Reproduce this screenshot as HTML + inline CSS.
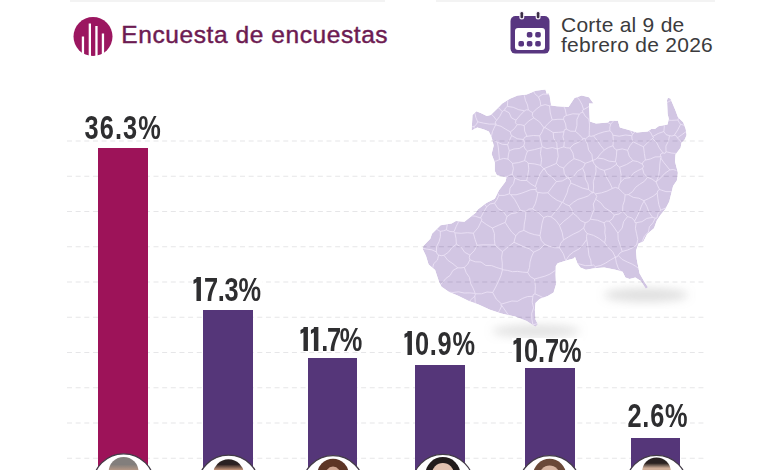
<!DOCTYPE html>
<html><head><meta charset="utf-8">
<style>
html,body{margin:0;padding:0;}
body{width:780px;height:470px;overflow:hidden;background:#fff;position:relative;font-family:"Liberation Sans",sans-serif;}
.abs{position:absolute;}
.title{left:121.3px;top:20.8px;font-size:24.5px;color:#6d1b52;white-space:nowrap;letter-spacing:0.58px;-webkit-text-stroke:0.45px #6d1b52;}
.date{left:561px;top:14.9px;font-size:21px;line-height:20.3px;color:#3b3b3d;white-space:nowrap;letter-spacing:0.25px;}
.bar{position:absolute;bottom:0;}
.mag{background:#9d1359;}
.pur{background:#553679;}
.lbl{position:absolute;font-weight:bold;font-size:34px;color:#2e2e30;white-space:nowrap;transform-origin:0 0;line-height:25.3px;background:#fff;padding:0 2px;}
.one{display:inline-block;position:relative;width:14px;height:23.6px;}
.one:before{content:"";position:absolute;left:4.2px;top:0;width:5.6px;height:23.6px;background:#2e2e30;}
.one:after{content:"";position:absolute;left:0;top:0.6px;width:5.2px;height:4.4px;background:#2e2e30;transform:skewY(-20deg);transform-origin:100% 0;}
</style></head>
<body>
<!-- faint top text remnants -->
<div class="abs" style="left:70px;top:0;width:315px;height:2px;background:#f3f3f3"></div>
<div class="abs" style="left:436px;top:0;width:279px;height:2px;background:#f3f3f3"></div>
<!-- grid -->
<svg class="abs" style="left:0;top:0" width="780" height="470">
  <g stroke="#e6e6e8" stroke-width="1.1" stroke-dasharray="5 3.65" stroke-dashoffset="-2">
    <line x1="65" y1="141" x2="706" y2="141"/>
    <line x1="65" y1="176.25" x2="706" y2="176.25"/>
    <line x1="65" y1="211.5" x2="706" y2="211.5"/>
    <line x1="65" y1="246.75" x2="706" y2="246.75"/>
    <line x1="65" y1="282" x2="706" y2="282"/>
    <line x1="65" y1="317.25" x2="706" y2="317.25"/>
    <line x1="65" y1="352.5" x2="706" y2="352.5"/>
    <line x1="65" y1="387.75" x2="706" y2="387.75"/>
    <line x1="65" y1="423" x2="706" y2="423"/>
    <line x1="65" y1="458.25" x2="706" y2="458.25"/>
  </g>
</svg>

<!-- header logo -->
<svg class="abs" style="left:73px;top:17px" width="40" height="40" viewBox="0 0 40 40">
  <circle cx="20" cy="19.6" r="19.5" fill="#9b1660"/>
  <g fill="#fff">
    <rect x="8.8" y="19.5" width="2.3" height="22"/>
    <rect x="15.7" y="6.5" width="2.3" height="35"/>
    <rect x="22.3" y="9" width="2.3" height="32"/>
    <rect x="28.8" y="16.5" width="2.3" height="25"/>
  </g>
</svg>
<div class="abs title">Encuesta de encuestas</div>

<!-- calendar icon -->
<svg class="abs" style="left:508px;top:10px" width="45" height="46" viewBox="0 0 45 46">
  <rect x="2.5" y="6" width="39" height="37.6" rx="5" fill="#583680"/>
  <rect x="7" y="18" width="30" height="22" rx="3" fill="#fff"/>
  <g fill="#583680">
    <rect x="18.8" y="22" width="5.6" height="5.6" rx="1.8"/>
    <rect x="27.2" y="22" width="5.6" height="5.6" rx="1.8"/>
    <rect x="10.4" y="31" width="5.6" height="5.6" rx="1.8"/>
    <rect x="18.8" y="31" width="5.6" height="5.6" rx="1.8"/>
    <rect x="27.2" y="31" width="5.6" height="5.6" rx="1.8"/>
  </g>
  <g stroke="#f4eef8" stroke-width="5" stroke-linecap="round">
    <line x1="13.8" y1="3.3" x2="13.8" y2="7"/>
    <line x1="30.1" y1="3.3" x2="30.1" y2="7"/>
  </g>
  <g stroke="#3a2d45" stroke-width="2.6" stroke-linecap="round">
    <line x1="13.8" y1="3.3" x2="13.8" y2="7"/>
    <line x1="30.1" y1="3.3" x2="30.1" y2="7"/>
  </g>
</svg>
<div class="abs date">Corte al 9 de<br>febrero de 2026</div>

<!-- map shadows -->
<svg class="abs" style="left:0;top:0" width="780" height="470">
  <defs>
    <filter id="blr" x="-50%" y="-50%" width="200%" height="200%"><feGaussianBlur stdDeviation="5"/></filter>
    <filter id="blr2" x="-50%" y="-50%" width="200%" height="200%"><feGaussianBlur stdDeviation="0.5"/></filter>
    <clipPath id="mclip"><path d="M471.6,130.4 L472.5,115.1 476.4,111.3 481.2,113.2 486.9,116.1 490.7,115.1 498.4,107.5 502.2,103.6 509.9,98.8 517.6,95.4 526.7,94.5 535.7,90.8 545.4,89.6 546.8,94 548.3,93 549.6,95.5 551.2,105.6 556.9,106.3 568.5,106.9 574.5,98 581.7,95.4 589,97.2 593.5,103.5 589,103.5 589.8,121.6 596,123.4 608,122.5 609.7,120.7 617.9,120.7 619.9,127.5 628,129.7 636.9,132.4 647.7,131.5 651.3,128.9 654.9,128.9 658.5,126.2 667.5,124.4 668.8,119 667.6,113.8 667,100.2 667.9,97.7 670.4,98.5 675.5,110.4 678,117.2 683.2,122.3 685.7,129.1 686.6,135 684.9,139.3 681.5,142.7 680.6,147.8 678,151.2 675.5,154.6 675,161.4 677.2,170 677.9,172.7 677,180.3 673.1,186.1 671.2,193.7 669.3,201.4 665.4,209 660.7,214.8 656.8,220.6 654,228.2 647.2,234 643.4,241.6 638.6,243.5 636,250.8 636.7,259.1 639.5,273.2 645.1,283.1 648,287.3 645.8,288.7 640.9,281 635.3,277.4 629.6,278.9 625.4,277.4 622.6,271.8 615.5,269.7 604.2,267.6 594.4,268.3 585.9,269.7 580.3,267.6 577.4,263.3 575,257 573.5,258.5 566.2,260.5 557.7,263.3 555.8,266 555.6,274.4 556,284.4 553.6,292.6 547.8,296 539.6,299 535.5,303.1 534.9,310.1 535.5,319.5 537.8,324.2 535.5,326.8 526.7,320.9 515,316.5 510.4,315.5 501.4,313.6 490,309.7 478.5,304.6 468.3,300.8 458.1,295.7 449.1,291.9 441.5,286.8 438.9,281.5 435.1,270 428.6,264.4 426,255.9 422.7,249 423.5,245.7 430.3,238.8 432,233.7 440.6,225.2 451.6,223.5 455.9,221 464.4,221.8 472.9,215 476,212.4 477.8,209.4 486.3,203 494.8,198.7 499,190.2 505.4,181.7 506.5,177.4 496.9,175.3 494.8,171 494.8,162.5 491.6,154 493.7,145.5 491.6,137.5 490.7,135.2 488.8,131.4 484,129.5 477.3,127.6 Z"/></clipPath>
  </defs>
  <ellipse cx="646" cy="295" rx="42" ry="7" fill="#a0a0a0" fill-opacity="0.32" filter="url(#blr)"/>
  <ellipse cx="536" cy="331" rx="44" ry="6.5" fill="#a0a0a0" fill-opacity="0.3" filter="url(#blr)"/>
  <g clip-path="url(#mclip)">
    <path fill="#d0c3e2" fill-opacity="0.95" d="M471.6,130.4 L472.5,115.1 476.4,111.3 481.2,113.2 486.9,116.1 490.7,115.1 498.4,107.5 502.2,103.6 509.9,98.8 517.6,95.4 526.7,94.5 535.7,90.8 545.4,89.6 546.8,94 548.3,93 549.6,95.5 551.2,105.6 556.9,106.3 568.5,106.9 574.5,98 581.7,95.4 589,97.2 593.5,103.5 589,103.5 589.8,121.6 596,123.4 608,122.5 609.7,120.7 617.9,120.7 619.9,127.5 628,129.7 636.9,132.4 647.7,131.5 651.3,128.9 654.9,128.9 658.5,126.2 667.5,124.4 668.8,119 667.6,113.8 667,100.2 667.9,97.7 670.4,98.5 675.5,110.4 678,117.2 683.2,122.3 685.7,129.1 686.6,135 684.9,139.3 681.5,142.7 680.6,147.8 678,151.2 675.5,154.6 675,161.4 677.2,170 677.9,172.7 677,180.3 673.1,186.1 671.2,193.7 669.3,201.4 665.4,209 660.7,214.8 656.8,220.6 654,228.2 647.2,234 643.4,241.6 638.6,243.5 636,250.8 636.7,259.1 639.5,273.2 645.1,283.1 648,287.3 645.8,288.7 640.9,281 635.3,277.4 629.6,278.9 625.4,277.4 622.6,271.8 615.5,269.7 604.2,267.6 594.4,268.3 585.9,269.7 580.3,267.6 577.4,263.3 575,257 573.5,258.5 566.2,260.5 557.7,263.3 555.8,266 555.6,274.4 556,284.4 553.6,292.6 547.8,296 539.6,299 535.5,303.1 534.9,310.1 535.5,319.5 537.8,324.2 535.5,326.8 526.7,320.9 515,316.5 510.4,315.5 501.4,313.6 490,309.7 478.5,304.6 468.3,300.8 458.1,295.7 449.1,291.9 441.5,286.8 438.9,281.5 435.1,270 428.6,264.4 426,255.9 422.7,249 423.5,245.7 430.3,238.8 432,233.7 440.6,225.2 451.6,223.5 455.9,221 464.4,221.8 472.9,215 476,212.4 477.8,209.4 486.3,203 494.8,198.7 499,190.2 505.4,181.7 506.5,177.4 496.9,175.3 494.8,171 494.8,162.5 491.6,154 493.7,145.5 491.6,137.5 490.7,135.2 488.8,131.4 484,129.5 477.3,127.6 Z"/>
    <path fill="none" stroke="#efe6f8" stroke-width="0.9" stroke-opacity="0.85" filter="url(#blr2)" d="M455.7,317.1 459.0,312.5 462.8,308.3 467.9,305.3 470.4,300.0 474.8,296.3M474.8,296.3 475.2,301.4 474.7,306.5 475.1,311.5 475.7,316.6 475.3,321.7 476.5,326.7 476.4,331.7 476.1,336.8 476.7,341.9 477.5,346.9M475.9,293.8 475.0,294.9 474.8,296.3M475.9,293.8 475.4,293.8 475.2,293.4M475.2,293.4 469.7,292.9 464.1,293.0 458.6,291.8 452.9,292.5 447.4,291.9 441.8,290.9 436.2,291.2M475.2,293.4 473.1,288.2 470.5,283.2 469.5,277.5 466.2,272.7 464.3,267.4M433.9,289.5 438.5,286.5 442.4,282.8 445.7,278.6 450.1,275.4 452.9,270.5 457.7,267.8M464.3,267.4 461.0,267.9 457.7,267.8M677.4,137.8 676.3,135.8 674.2,135.3M677.4,137.8 681.9,134.7 686.3,131.4 690.7,128.0M674.2,135.3 677.7,130.0 680.6,124.3M690.7,128.0 685.8,125.7 680.6,124.3M681.9,143.1 679.8,140.3 677.4,137.8M680.6,124.3 679.1,122.3 677.9,120.0M677.9,120.0 680.2,113.1 683.9,106.9M674.2,135.3 671.9,136.0 669.5,135.7M677.7,153.5 671.8,153.1 666.0,151.7M669.5,135.7 668.5,141.0 665.9,146.1 666.0,151.7M477.1,245.3 483.1,244.8 489.0,244.9 495.0,244.9M477.1,245.3 475.0,239.3 473.4,233.2M495.0,244.9 494.3,239.2 494.4,233.5 492.4,228.0M473.4,233.2 478.2,227.6 481.4,220.9M492.4,228.0 486.7,224.7 481.4,220.9M469.9,259.8 469.3,257.4 469.9,255.0M469.9,255.0 474.3,250.7 477.1,245.3M502.2,269.2 496.9,267.6 491.6,265.6 485.8,265.5 481.0,262.0 475.2,261.8 469.9,259.8M502.2,269.2 502.3,263.3 501.6,257.4 502.5,251.6M502.5,251.6 498.6,248.4 495.0,244.9M673.5,206.4 666.9,207.5 660.7,210.1M660.7,210.1 658.0,213.8 656.9,218.3M644.0,201.1 646.9,206.5 649.1,212.3 652.6,217.4M655.3,218.1 654.0,217.8 652.6,217.4M655.3,218.1 656.2,217.9 656.9,218.3M644.0,201.1 644.1,200.9 643.9,200.7M660.7,210.1 658.8,204.6 657.9,198.8 657.2,193.1M643.9,200.7 648.6,198.6 653.1,196.2 657.2,193.1M469.9,255.0 464.7,252.3 461.3,247.3 456.4,244.2M464.3,267.4 467.8,264.1 469.9,259.8M457.7,267.8 453.0,263.8 447.8,260.3 444.0,255.3M456.4,244.2 451.9,247.6 448.6,252.1 444.0,255.3M473.4,233.2 467.3,232.7 461.1,233.3 454.9,232.8M456.4,244.2 456.0,238.5 454.9,232.8M423.7,286.9 425.2,282.1 427.9,277.7 430.1,273.2 432.5,268.8 433.6,263.8 437.5,260.0 438.6,255.0M444.0,255.3 441.2,255.7 438.6,255.0M562.1,304.4 556.5,302.7 551.0,300.8 545.4,299.1 540.3,296.2 535.0,293.9M564.6,267.8 559.3,269.0 554.4,271.0 549.8,274.2 544.8,276.2 539.6,277.6 534.5,279.0M535.0,293.9 535.4,286.4 534.5,279.0M502.5,251.6 508.2,246.9 514.0,242.3M533.6,252.2 529.2,248.7 523.9,246.9 519.0,244.5 514.0,242.3M533.6,252.2 531.4,257.1 530.0,262.2 529.5,267.5 527.7,272.5M502.2,269.2 502.9,269.2 502.5,269.7M527.7,272.5 522.6,272.1 517.6,271.4 512.4,271.7 507.5,270.4 502.5,269.7M475.9,293.8 481.5,293.8 487.0,292.0 492.7,292.5M502.5,269.7 500.9,275.8 498.4,281.4 495.7,287.0 492.7,292.5M533.6,252.2 539.8,249.2 544.7,244.3M544.7,244.3 541.3,240.5 540.0,235.5M540.0,235.5 534.3,234.6 528.9,232.9 523.8,230.4M514.0,242.3 514.8,239.0 515.8,235.8M515.8,235.8 519.1,232.1 523.8,230.4M492.4,228.0 498.8,225.1 505.2,222.4M515.8,235.8 511.6,231.9 508.3,227.2 505.2,222.4M652.6,217.4 646.9,218.4 641.9,221.7 636.2,222.7M644.0,201.1 641.4,206.0 639.6,211.2 637.2,216.2 634.7,221.0M634.7,221.0 634.8,222.4 636.2,222.7M657.2,193.1 657.7,190.8 659.6,189.5M659.6,189.5 665.9,191.6 672.5,191.6M532.9,296.3 527.4,296.6 522.3,298.5 517.5,301.3 511.9,301.0 506.8,302.5 501.6,304.0M532.9,296.3 532.2,302.1 533.6,307.8 531.7,313.5 531.9,319.2 532.9,324.9M514.3,320.8 509.4,316.4 505.6,311.0 501.8,305.6M501.8,305.6 500.5,304.9 501.6,304.0M535.0,293.9 533.3,294.6 532.9,296.3M527.7,272.5 530.3,276.6 534.5,279.0M492.7,292.5 496.2,299.0 501.6,304.0M553.8,320.6 548.5,321.4 543.3,322.3 538.0,323.4 532.9,324.9M477.5,346.9 480.3,342.4 483.9,338.3 485.8,333.3 487.9,328.3 491.0,324.0 492.6,318.8 496.9,315.1 499.5,310.5 501.8,305.6M645.5,274.0 640.9,271.0 636.9,267.0 632.2,264.1 627.1,261.9 622.1,259.4 618.2,255.4M636.6,245.0 632.2,248.0 627.3,250.1 622.2,251.5M618.2,255.4 619.8,253.1 622.2,251.5M655.3,218.1 653.0,222.8 649.4,226.7 648.4,232.1 644.5,235.9 642.5,240.8 640.4,245.6M636.2,222.7 635.4,228.3 636.6,233.8 637.8,239.4 636.6,245.0M481.5,106.2 484.7,110.3 489.5,112.8 493.4,116.1 496.6,120.3M496.6,120.3 495.3,122.0 495.4,124.1M474.9,113.1 475.9,117.6 477.7,121.8M495.4,124.1 489.4,124.1 483.5,123.1 477.7,121.8M465.2,126.7 469.8,127.6 474.3,126.2M477.7,121.8 476.5,124.3 474.3,126.2M474.3,126.2 474.1,127.8 474.9,129.1M495.4,124.1 496.4,124.1 495.6,124.8M495.6,124.8 492.5,131.5 490.8,138.8M480.5,218.0 481.9,219.2 481.4,220.9M505.2,222.4 506.1,219.6 506.9,216.7M486.7,206.8 490.1,203.9 494.5,203.2M486.7,206.8 483.5,212.3 480.5,218.0M506.9,216.7 503.4,211.6 497.8,208.4 494.5,203.2M538.5,96.9 540.2,101.2 540.8,105.8M533.1,90.7 535.3,94.3 538.5,96.9M524.3,95.4 525.4,100.3 527.5,105.0 528.4,110.0M540.8,105.8 536.5,109.0 532.7,112.7M532.7,112.7 530.5,111.4 528.4,110.0M509.9,94.7 507.7,100.4 507.4,106.4M494.8,105.3 498.9,108.0 502.2,111.6M507.4,106.4 505.4,108.0 504.5,110.3M504.5,110.3 503.2,110.7 502.2,111.6M528.4,110.0 526.4,109.8 524.5,110.8M524.5,110.8 518.7,109.7 513.2,107.3 507.4,106.4M496.6,120.3 499.8,116.3 502.2,111.6M516.0,120.2 520.1,115.3 524.5,110.8M516.0,120.2 511.4,117.8 509.1,112.7 504.5,110.3M643.9,200.7 638.9,198.2 633.3,197.4 628.4,194.6M628.4,194.6 632.6,191.6 635.6,187.3 639.8,184.2 644.3,181.4 647.5,177.3M659.6,189.5 657.7,185.8 656.1,182.0M647.5,177.3 652.1,179.1 656.1,182.0M445.9,212.5 446.6,218.2 447.4,224.0 446.4,229.8M454.0,231.8 450.0,231.5 446.4,229.8M454.0,231.8 456.1,226.7 458.5,221.9 460.8,217.0 464.5,212.8M454.9,232.8 454.4,232.4 454.0,231.8M436.4,251.9 436.6,246.6 439.0,241.8 440.4,236.7 440.3,231.4M438.6,255.0 437.0,253.8 436.4,251.9M440.3,231.4 443.4,230.8 446.4,229.8M480.5,218.0 475.2,216.2 469.5,215.6 464.5,212.8M614.4,214.9 612.6,218.7 609.3,221.2M614.4,214.9 619.0,214.0 622.7,211.2M622.7,211.2 625.1,213.8 627.5,216.6M627.5,216.6 623.6,221.7 622.1,228.1 617.9,233.1M617.9,233.1 613.8,227.0 609.3,221.2M595.4,193.8 601.3,192.9 607.0,191.1 612.4,188.4M595.4,193.8 596.8,196.4 595.6,199.2M625.1,194.8 621.9,191.6 618.6,188.5M625.1,194.8 624.6,200.3 622.8,205.6 622.7,211.2M612.4,188.4 615.5,187.4 618.6,188.5M595.6,199.2 600.7,202.7 604.5,207.7 609.8,210.9 614.4,214.9M628.4,194.6 626.7,194.8 625.1,194.8M634.7,221.0 631.7,217.8 627.5,216.6M622.2,251.5 620.3,245.5 618.2,239.5 617.9,233.1M569.2,205.8 565.8,204.4 562.7,202.4M569.2,205.8 573.3,202.3 577.9,199.4 583.1,197.8 588.3,195.9 592.3,192.2M562.7,202.4 564.9,197.7 567.1,192.9 568.3,187.8 570.8,183.1M570.8,183.1 576.7,185.5 582.5,188.1 588.7,189.6M588.7,189.6 590.4,191.1 592.3,192.2M604.2,170.4 606.2,176.8 609.6,182.5 612.4,188.4M604.2,170.4 599.6,168.9 595.8,165.9M595.4,193.8 594.3,192.9 593.1,192.3M593.1,192.3 593.6,187.0 593.3,181.7 595.0,176.5 596.0,171.3 595.8,165.9M551.1,216.8 556.0,220.5 559.5,225.5M551.1,216.8 554.9,212.1 558.9,207.6 562.1,202.4M562.1,202.4 562.4,202.2 562.7,202.4M569.2,205.8 571.7,209.4 573.2,213.4M559.5,225.5 563.9,221.2 568.7,217.5 573.2,213.4M543.7,217.6 542.0,223.5 541.1,229.5 540.0,235.5M543.7,217.6 547.3,216.2 551.1,216.8M544.7,244.3 549.4,246.3 554.3,247.7 559.5,247.8M559.5,247.8 560.6,243.4 563.5,239.9M559.5,225.5 562.2,232.5 563.5,239.9M559.5,247.8 563.4,253.9 565.7,260.8M609.3,221.2 606.4,221.1 604.0,222.8M595.6,199.2 593.3,204.0 594.1,209.5 592.1,214.3 590.4,219.2M590.4,219.2 597.4,220.2 604.0,222.8M573.2,213.4 577.2,216.5 580.5,220.5 585.2,222.7M593.1,192.3 592.4,193.3 592.3,192.2M590.4,219.2 588.2,221.7 585.2,222.7M563.5,239.9 568.5,236.9 573.6,234.0 579.0,231.5 583.7,228.0M585.2,222.7 584.6,225.4 583.7,228.0M495.6,124.8 501.0,126.3 505.7,129.2 510.4,131.9M516.0,120.2 515.4,122.8 517.2,124.7M510.4,131.9 514.3,128.7 517.2,124.7M533.8,117.9 532.3,115.5 532.7,112.7M533.8,117.9 528.5,121.1 524.2,125.6M517.2,124.7 520.8,124.7 524.2,125.6M557.2,149.0 552.3,147.5 546.9,148.7 542.1,146.7M557.2,149.0 556.8,143.3 553.7,138.3 553.2,132.6M542.1,146.7 540.8,141.3 539.7,135.8M539.7,135.8 542.1,131.8 543.8,127.5M553.2,132.6 548.9,129.9 544.6,127.3M544.6,127.3 544.4,128.2 543.8,127.5M527.0,136.3 524.7,131.2 524.2,125.6M527.0,136.3 533.3,135.5 539.7,135.8M533.8,117.9 539.6,121.9 543.8,127.5M563.6,119.3 565.6,124.0 566.3,129.1M564.0,131.8 564.4,129.8 566.3,129.1M564.0,131.8 558.6,132.3 553.2,132.6M552.2,119.9 557.9,119.3 563.6,119.3M552.2,119.9 548.2,123.4 544.6,127.3M552.2,119.9 550.3,113.0 549.5,105.8M540.8,105.8 545.2,104.6 549.5,105.8M528.2,163.3 534.6,163.9 540.8,165.4M541.2,147.8 540.4,153.6 541.6,159.5 540.8,165.4M541.2,147.8 534.4,149.6 527.5,151.0M528.2,163.3 526.8,161.5 524.5,160.7M524.5,160.7 525.8,155.7 527.5,151.0M547.9,192.8 552.1,196.8 556.8,200.1 562.1,202.4M547.9,192.8 542.9,193.1 538.0,192.4M543.7,217.6 538.5,212.7 532.6,208.8M538.0,192.4 536.8,198.1 535.3,203.6 532.6,208.8M523.8,230.4 524.3,224.0 525.5,217.8 525.9,211.4M532.6,208.8 528.8,209.1 525.9,211.4M506.9,216.7 511.0,213.7 516.1,212.9 520.4,210.2M525.9,211.4 523.2,210.9 520.4,210.2M538.5,96.9 543.0,94.1 548.6,94.2 553.0,91.2M549.5,105.8 552.9,103.7 555.6,100.7M566.4,115.5 572.8,113.8 579.3,114.1M566.4,115.5 565.1,109.0 561.8,103.4M576.2,96.0 579.5,100.1 582.0,104.6 583.6,109.6M579.3,114.1 580.9,112.8 583.0,112.2M583.6,109.6 582.2,110.6 583.0,112.2M563.6,119.3 564.0,116.7 566.4,115.5M566.3,129.1 570.5,131.2 575.3,131.3M575.3,131.3 576.9,125.6 576.9,119.6 579.3,114.1M596.3,102.6 589.9,106.0 583.6,109.6M585.1,139.2 587.1,137.5 589.2,136.0M589.2,136.0 589.3,130.4 589.6,124.9 588.9,119.3M583.3,139.1 579.6,134.9 575.3,131.3M585.1,139.2 584.3,137.9 583.3,139.1M588.9,119.3 585.3,116.3 583.0,112.2M588.7,189.6 588.0,184.1 585.4,179.0 584.8,173.4 582.6,168.2M570.8,183.1 570.4,180.4 568.3,178.5M568.3,178.5 573.8,176.1 577.5,171.2 582.6,168.2M547.9,192.8 552.1,187.1 556.4,181.6M556.4,181.6 562.3,180.9 567.4,178.0M568.3,178.5 568.5,177.3 567.4,178.0M595.8,165.9 593.9,163.3 592.7,160.3M592.6,160.3 592.3,161.4 592.7,160.3M592.6,160.3 589.0,162.0 585.2,163.3M585.2,163.3 584.2,165.9 582.6,168.2M669.8,169.9 664.9,173.3 660.9,177.8 656.4,181.6M669.8,169.9 666.7,166.0 663.5,162.1 660.7,157.9M660.7,157.9 659.8,163.9 659.5,169.9 658.6,175.9 656.4,181.6M676.3,170.4 673.1,169.5 669.8,169.9M656.1,182.0 656.4,181.9 656.4,181.6M589.2,136.0 591.3,136.3 593.4,135.8M603.1,118.5 606.4,121.9 610.7,124.1M593.4,135.8 598.7,133.5 604.2,131.8 609.9,130.8M609.9,130.8 609.8,127.4 610.7,124.1M597.3,158.0 603.4,158.8 609.2,161.2 615.4,161.8M597.3,158.0 600.5,153.8 604.3,150.0M604.3,150.0 608.4,147.4 613.0,145.7M615.4,161.8 616.4,155.9 616.8,150.0M616.8,150.0 614.3,148.4 613.0,145.7M616.5,164.3 610.8,168.3 604.2,170.4M592.7,160.3 595.2,159.6 597.3,158.0M616.5,164.3 616.5,162.8 615.4,161.8M585.1,139.2 587.5,144.3 588.6,149.9 591.9,154.6 592.6,160.3M593.4,135.8 597.2,140.4 600.5,145.4 604.3,150.0M609.9,130.8 611.9,132.6 612.9,135.2M612.9,135.2 613.3,140.4 613.0,145.7M673.5,99.1 668.4,101.8 663.4,104.8 658.5,108.0M619.7,167.2 621.1,174.6 620.7,182.0M619.7,167.2 626.5,164.5 632.9,160.7M620.7,182.0 624.5,178.4 630.1,177.6 633.4,173.2 637.8,170.6 642.5,168.4M632.9,160.7 637.7,161.6 642.1,164.0M642.5,168.4 643.6,166.1 642.1,164.0M618.6,188.5 619.1,185.1 620.7,182.0M616.5,164.3 617.9,166.0 619.7,167.2M627.6,150.3 622.2,148.9 616.8,150.0M627.6,150.3 629.2,156.1 632.9,160.7M647.5,177.3 643.9,173.4 642.5,168.4M586.7,239.5 587.6,244.7 588.3,250.0 588.9,255.2 590.8,260.2 591.3,265.5M586.7,239.5 586.5,236.5 587.1,233.5M587.1,233.5 593.6,235.4 599.4,238.6 604.7,242.8M604.7,242.8 608.1,247.6 612.7,251.7 615.3,257.1M615.3,257.1 615.9,257.6 615.3,257.2M615.3,257.2 610.4,260.0 605.7,263.0 600.8,265.4 595.3,266.7M595.3,266.7 593.6,265.0 591.3,265.5M566.9,263.9 573.0,264.1 579.2,263.9 585.2,265.6 591.3,265.5M565.7,260.8 569.0,255.6 573.6,251.8 579.2,248.9 583.2,244.5 586.7,239.5M583.7,228.0 585.1,230.9 587.1,233.5M604.0,222.8 605.2,227.7 604.8,232.7 605.7,237.7 604.7,242.8M618.2,255.4 617.1,256.9 615.3,257.1M627.1,288.4 624.0,283.6 622.3,278.4 621.5,272.7 618.2,268.0 616.4,262.8 615.3,257.2M595.9,294.5 596.8,288.9 595.2,283.4 595.1,277.8 594.3,272.3 595.3,266.7M492.0,161.1 495.9,161.1 499.5,159.6M490.8,138.8 493.9,140.9 497.4,142.2M499.5,159.6 498.9,153.8 498.4,148.0 497.4,142.2M528.2,163.3 528.8,169.2 527.8,174.9 526.7,180.5M540.8,165.4 542.1,167.1 543.7,168.6M543.7,168.6 539.9,174.1 537.4,180.3 535.3,186.6M526.7,180.5 530.8,183.9 535.3,186.6M556.4,181.6 552.4,177.2 547.4,173.8 544.3,168.5M543.7,168.6 544.1,169.6 544.3,168.5M538.0,192.4 536.1,191.5 536.1,189.4M535.3,186.6 536.6,187.7 536.1,189.4M520.4,210.2 517.6,204.8 514.6,199.4 510.7,194.7M536.1,189.4 530.8,189.7 525.9,191.6 521.0,193.4 516.0,194.8 510.7,194.7M556.4,163.4 559.5,166.5 563.6,168.0M556.4,163.4 558.2,156.4 557.4,149.1M563.6,168.0 568.3,162.9 574.0,158.7M574.0,158.7 572.9,153.0 569.9,148.0M557.4,149.1 560.5,147.8 563.8,146.9M569.9,148.0 566.8,147.9 563.8,146.9M544.3,168.5 550.4,166.0 556.4,163.4M567.4,178.0 564.3,173.5 563.6,168.0M541.2,147.8 541.5,147.1 542.1,146.7M557.2,149.0 557.7,148.4 557.4,149.1M585.2,163.3 579.8,160.5 574.0,158.7M583.3,139.1 578.8,142.1 573.9,144.2 569.9,148.0M564.0,131.8 562.9,136.8 564.3,141.9 563.8,146.9M642.1,164.0 643.3,161.7 645.4,160.1M660.7,157.9 661.6,157.0 660.3,156.8M645.4,160.1 650.3,159.0 655.1,156.9 660.3,156.8M666.0,151.7 665.0,153.4 663.0,152.9M663.0,152.9 660.6,154.1 660.3,156.8M486.7,206.8 482.5,201.9 477.1,198.1 473.5,192.6M507.6,144.7 508.5,147.7 509.3,150.7M507.6,144.7 509.6,140.1 511.6,135.6M509.3,150.7 514.1,148.9 519.3,148.5 523.8,145.7M511.6,135.6 517.2,138.7 523.5,139.5M523.5,139.5 524.6,142.6 523.8,145.7M499.5,159.6 503.6,158.4 507.9,159.1M507.9,159.1 508.4,154.9 509.3,150.7M497.4,142.2 502.3,144.3 507.6,144.7M510.4,131.9 510.7,133.9 511.6,135.6M512.4,163.4 518.6,162.6 524.5,160.7M512.4,163.4 510.3,161.1 507.9,159.1M527.5,151.0 525.0,148.8 523.8,145.7M527.0,136.3 524.7,137.3 523.5,139.5M509.4,193.8 510.0,188.2 513.5,183.6 514.8,178.2M509.4,193.8 504.3,195.4 498.8,195.4M493.9,186.2 496.4,190.7 498.8,195.4M499.9,177.5 506.4,176.9 512.2,174.0M512.2,174.0 513.4,176.2 514.8,178.2M526.7,180.5 520.5,180.5 514.8,178.2M510.7,194.7 510.0,194.4 509.4,193.8M494.5,203.2 497.0,199.5 498.8,195.4M512.4,163.4 513.4,168.7 512.2,174.0M677.9,120.0 671.3,120.4 664.7,119.5M669.5,135.7 666.0,134.6 663.9,131.5M663.9,131.5 664.4,125.5 664.7,119.5M643.5,146.8 647.8,142.4 652.5,138.5M643.5,146.8 638.3,144.3 633.2,141.8M633.2,141.8 632.0,138.9 631.8,135.7M631.8,135.7 632.5,135.2 632.5,134.4M632.5,134.4 636.5,130.3 641.5,127.6M652.5,138.5 653.6,137.7 652.7,136.6M652.7,136.6 650.5,132.3 646.5,129.5M645.4,160.1 644.4,153.5 643.5,146.8M663.0,152.9 659.4,148.2 656.7,142.7 652.5,138.5M627.6,150.3 629.9,145.8 633.2,141.8M612.9,135.2 619.2,136.2 625.5,135.0 631.8,135.7M663.9,131.5 658.1,133.5 652.7,136.6M610.7,124.1 614.4,120.0 618.7,116.6M632.5,134.4 630.2,129.9 628.3,125.1 623.7,121.9 622.1,117.0M436.4,251.9 431.8,249.8 426.7,249.1 421.8,248.1 416.9,246.8 411.8,246.1 407.1,244.2 402.5,242.0 397.3,241.9 392.9,239.1 388.2,237.0 383.4,235.5 378.5,234.4 373.6,233.2 368.3,233.4 364.0,230.1 358.6,230.6 354.2,227.5 349.1,227.1M440.3,231.4 435.4,228.5 429.9,227.1 424.5,225.4 418.9,224.2 413.9,221.5 408.5,220.1 403.4,217.6"/>
  </g>
</svg>

<svg class="abs" style="left:0;top:0" width="780" height="470"><g clip-path="url(#mclip)"><g stroke="#8a7fa0" stroke-opacity="0.3" stroke-width="1.2" stroke-dasharray="5 3.65" stroke-dashoffset="-2">
    <line x1="65" y1="141" x2="706" y2="141"/>
    <line x1="65" y1="176.25" x2="706" y2="176.25"/>
    <line x1="65" y1="211.5" x2="706" y2="211.5"/>
    <line x1="65" y1="246.75" x2="706" y2="246.75"/>
    <line x1="65" y1="282" x2="706" y2="282"/>
    <line x1="65" y1="317.25" x2="706" y2="317.25"/>
    <line x1="65" y1="352.5" x2="706" y2="352.5"/>
    <line x1="65" y1="387.75" x2="706" y2="387.75"/>
    <line x1="65" y1="423" x2="706" y2="423"/>
    <line x1="65" y1="458.25" x2="706" y2="458.25"/>
  </g></g></svg>
<!-- bars -->
<div class="bar mag" style="left:98px;width:50px;top:148px;"></div>
<div class="bar pur" style="left:203px;width:49.6px;top:310.2px;"></div>
<div class="bar pur" style="left:308px;width:49.4px;top:358.4px;"></div>
<div class="bar pur" style="left:415px;width:50px;top:365.4px;"></div>
<div class="bar pur" style="left:525px;width:50px;top:367.5px;"></div>
<div class="bar pur" style="left:631px;width:49px;top:438px;"></div>

<!-- labels -->
<div class="lbl" style="left:83.31px;top:115.15px;transform:scaleX(0.745);letter-spacing:1.50px">36.3%</div>
<div class="lbl" style="left:191.91px;top:276.65px;transform:scaleX(0.745);letter-spacing:-0.29px"><i class="one"></i>7.3%</div>
<div class="lbl" style="left:299.31px;top:326.85px;transform:scaleX(0.745);letter-spacing:-1.86px"><i class="one"></i><i class="one"></i>.7%</div>
<div class="lbl" style="left:403.11px;top:330.85px;transform:scaleX(0.745);letter-spacing:1.05px"><i class="one"></i>0.9%</div>
<div class="lbl" style="left:512.11px;top:337.85px;transform:scaleX(0.745);letter-spacing:-0.07px"><i class="one"></i>0.7%</div>
<div class="lbl" style="left:625.91px;top:402.85px;transform:scaleX(0.745);letter-spacing:1.05px">2.6%</div>

<!-- photos -->
<svg class="abs" style="left:0;top:0" width="780" height="470">
<defs><filter id="pb" x="-20%" y="-20%" width="140%" height="140%"><feGaussianBlur stdDeviation="0.5"/></filter><filter id="pb2" x="-20%" y="-20%" width="140%" height="140%"><feGaussianBlur stdDeviation="0.4"/></filter>
<linearGradient id="hg0" gradientUnits="userSpaceOnUse" x1="0" y1="457.0" x2="0" y2="469.5"><stop offset="0" stop-color="#827e7b"/><stop offset="0.60" stop-color="#827e7b"/><stop offset="1" stop-color="#ae9484"/></linearGradient>
<linearGradient id="hg1" gradientUnits="userSpaceOnUse" x1="0" y1="459.2" x2="0" y2="469.5"><stop offset="0" stop-color="#2c2321"/><stop offset="0.51" stop-color="#2c2321"/><stop offset="1" stop-color="#b98c72"/></linearGradient>
<linearGradient id="hg5" gradientUnits="userSpaceOnUse" x1="0" y1="457.4" x2="0" y2="468.2"><stop offset="0" stop-color="#2b2422"/><stop offset="0.54" stop-color="#2b2422"/><stop offset="1" stop-color="#d0ae98"/></linearGradient>
</defs>
<clipPath id="pc0"><circle cx="123.6" cy="484.8" r="30"/></clipPath>
<circle cx="123.6" cy="484.8" r="31" fill="#fff" stroke="#433c48" stroke-width="1.3" filter="url(#pb2)"/>
<g clip-path="url(#pc0)"><ellipse cx="123.6" cy="471.9" rx="14.9" ry="14.9" fill="url(#hg0)" filter="url(#pb)"/></g>
<clipPath id="pc1"><circle cx="228.5" cy="486.2" r="30"/></clipPath>
<circle cx="228.5" cy="486.2" r="31" fill="#fff" stroke="#433c48" stroke-width="1.3" filter="url(#pb2)"/>
<g clip-path="url(#pc1)"><ellipse cx="228.5" cy="474.7" rx="15.5" ry="15.5" fill="url(#hg1)" filter="url(#pb)"/></g>
<clipPath id="pc2"><circle cx="333.0" cy="486.6" r="30"/></clipPath>
<circle cx="333.0" cy="486.6" r="31" fill="#fff" stroke="#433c48" stroke-width="1.3" filter="url(#pb2)"/>
<g clip-path="url(#pc2)"><ellipse cx="333.0" cy="474.9" rx="16.1" ry="16.1" fill="#5d3428" filter="url(#pb)"/><ellipse cx="333.0" cy="477.5" rx="8.5" ry="11" fill="#cfa592" filter="url(#pb)"/></g>
<clipPath id="pc3"><circle cx="442.9" cy="485.3" r="30"/></clipPath>
<circle cx="442.9" cy="485.3" r="31" fill="#fff" stroke="#433c48" stroke-width="1.3" filter="url(#pb2)"/>
<g clip-path="url(#pc3)"><ellipse cx="442.9" cy="474.5" rx="17.5" ry="17.5" fill="#221b1d" filter="url(#pb)"/><ellipse cx="442.9" cy="474.0" rx="11.0" ry="11" fill="#e2c2b0" filter="url(#pb)"/></g>
<clipPath id="pc4"><circle cx="549.6" cy="486.6" r="30"/></clipPath>
<circle cx="549.6" cy="486.6" r="31" fill="#fff" stroke="#433c48" stroke-width="1.3" filter="url(#pb2)"/>
<g clip-path="url(#pc4)"><ellipse cx="549.6" cy="475.4" rx="16.6" ry="16.6" fill="#6b4837" filter="url(#pb)"/><ellipse cx="549.6" cy="476.5" rx="10.5" ry="11" fill="#d8b6a2" filter="url(#pb)"/></g>
<clipPath id="pc5"><circle cx="656.5" cy="486.3" r="30"/></clipPath>
<circle cx="656.5" cy="486.3" r="31" fill="#fff" stroke="#433c48" stroke-width="1.3" filter="url(#pb2)"/>
<g clip-path="url(#pc5)"><ellipse cx="656.5" cy="471.7" rx="14.3" ry="14.3" fill="url(#hg5)" filter="url(#pb)"/></g>
</svg>
</body></html>
